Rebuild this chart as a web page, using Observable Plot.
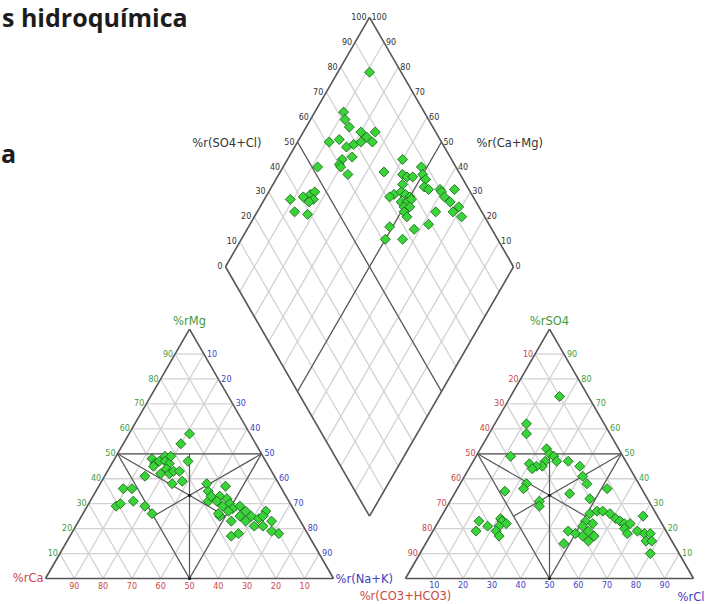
<!DOCTYPE html>
<html><head><meta charset="utf-8">
<script src="https://cdn.jsdelivr.net/npm/d3@7"></script>
<script src="https://cdn.jsdelivr.net/npm/@observablehq/plot@0.6"></script>
<style>
html,body{margin:0;padding:0;background:#fff;}
#wrap{position:relative;width:705px;height:604px;overflow:hidden;}
.t{position:absolute;font-family:"Open Sans",sans-serif;font-weight:700;font-size:25px;color:#1c1c1c;line-height:25px;white-space:nowrap;}
</style></head><body>
<div id="wrap">
<div id="chart"></div>
<div class="t" style="left:2px;top:5px;">s hidroquímica</div>
<div class="t" style="left:1px;top:141px;">a</div>
</div>
<script>
// ---- data ----
const ticks = [10, 20, 30, 40, 50, 60, 70, 80, 90];
const diamondTicks = [0, 10, 20, 30, 40, 50, 60, 70, 80, 90, 100];

// cation triangle samples: [%rMg, %r(Na+K)]
const cationMg = [58,54,48,46,47,49,47,46,44,42,42,43,43,47,38,39,41,45,49,36,36,29,30,31,29,26,38,35,37,33,31,31,32,30,29,28,29,27,27,25,25,23,25,24,27,25,23,21,21,18,19,17,18,26,23,33];
const cationNaK = [21,20,13,15,16,17,18,20,20,19,22,23,25,26,25,28,14,15,19,9,12,10,11,15,20,24,37,39,44,44,41,44,47,49,47,51,53,50,56,48,55,53,59,62,63,63,67,62,65,72,69,56,58,47,58,41];

// anion triangle samples: [%rSO4, %rCl]
const anionSO4 = [73,62,58,49,52,50,49,47,47,47,45,45,46,44,45,41,38,38,36,35,34,36,32,31,29,23,19,21,24,23,21,22,19,17,26,27,27,26,23,22,21,19,17,19,18,14,24,23,22,22,20,18,25,19,18,18,15,15,10,15,17];
const anionCl = [17,11,13,12,23,25,27,29,33,25,25,23,20,22,38,41,44,23,23,17,40,52,48,31,32,14,15,18,21,22,22,24,22,24,51,53,55,58,51,54,51,54,57,47,50,48,61,63,65,67,66,68,70,71,74,76,76,78,80,56,53];

// diamond samples: [%r(SO4+Cl), %r(Ca+Mg)]
const diamondSO4Cl = [89,72,71,71,61,65,74,75,79,76,66,69,72,66,62,60,61,60,52,36,41,44,46,44,42,35,39,83,88,74,80,81,83,87,87,85,86,78,73,76,77,78,74,76,78,74,76,73,73,90,90,90,95,91,93,92,90,84,79,65,73,61,67,71];
const diamondCaMg = [89,90,88,85,89,86,80,77,75,74,82,80,78,78,81,81,76,80,88,91,87,85,84,83,84,87,82,60,52,64,57,55,53,50,48,47,45,55,56,54,52,50,52,50,49,50,48,49,47,41,40,38,36,35,31,28,32,38,38,51,42,50,44,57];

const cationTitles = ["%rMg", "%rCa", "%r(Na+K)"];
const anionTitles = ["%rSO4", "%r(CO3+HCO3)", "%rCl"];
const diamondTitles = ["%r(SO4+Cl)", "%r(Ca+Mg)"];

// ---- geometry (triangle side = 100 units) ----
const H = Math.sqrt(3) / 2;
const cat = ([mg, na]) => ({x: na + mg / 2, y: mg * H});
const ani = ([so4, cl]) => ({x: 125 + cl + so4 / 2, y: so4 * H});
const dia = ([a, c]) => ({x: 112.5 + (a - c) / 2, y: 12.5 * Math.sqrt(3) + H * (a + c)});
const seg = (f, p, q) => { const A = f(p), B = f(q); return {x1: A.x, y1: A.y, x2: B.x, y2: B.y}; };
const yTop = 12.5 * Math.sqrt(3) + 200 * H;

const grid = [];
for (const k of ticks) {
  for (const f of [cat, ani]) {
    grid.push(seg(f, [k, 0], [k, 100 - k]));
    grid.push(seg(f, [0, k], [100 - k, k]));
    grid.push(seg(f, [0, 100 - k], [100 - k, 0]));
  }
  grid.push(seg(dia, [k, 0], [k, 100]));
  grid.push(seg(dia, [0, k], [100, k]));
}

const outline = [];
for (const f of [cat, ani]) {
  outline.push(seg(f, [0, 0], [0, 100]), seg(f, [0, 100], [100, 0]), seg(f, [100, 0], [0, 0]));
}
outline.push(seg(dia, [0, 0], [100, 0]), seg(dia, [100, 0], [100, 100]), seg(dia, [100, 100], [0, 100]), seg(dia, [0, 100], [0, 0]));

const inner = [];
for (const f of [cat, ani]) {
  inner.push(seg(f, [50, 0], [50, 50]), seg(f, [50, 50], [0, 50]), seg(f, [0, 50], [50, 0]));
  inner.push(seg(f, [50, 0], [25, 50]), seg(f, [50, 50], [25, 25]), seg(f, [0, 50], [50, 25]));
}
inner.push(seg(dia, [50, 0], [50, 100]), seg(dia, [0, 50], [100, 50]));

const knots = [cat([100/3, 100/3]), cat([0, 50]), ani([100/3, 100/3]), ani([0, 50])];

const cationPts = cationMg.map((m, i) => cat([m, cationNaK[i]]));
const anionPts = anionSO4.map((s, i) => ani([s, anionCl[i]]));
const diamondPts = diamondSO4Cl.map((a, i) => dia([a, diamondCaMg[i]]));

const GREEN = "#3f9a3f", RED = "#c84848", BLUE = "#4040c0", DARK = "#333";
const lab = (arr, f, val) => arr.map(k => ({...f(k), t: String(val(k))}));

const tickFont = {fontSize: 8, fontFamily: "DejaVu Sans"};
const titleFont = {fontSize: 11.5, fontFamily: "DejaVu Sans"};

const chart = Plot.plot({
  width: 705, height: 604, margin: 0,
  x: {domain: [0, 225], range: [45, 693], axis: null},
  y: {domain: [0, yTop], range: [578, 578 - yTop * 2.88], axis: null},
  style: {background: "white"},
  marks: [
    Plot.link(grid, {x1: "x1", y1: "y1", x2: "x2", y2: "y2", stroke: "#d2d2d2", strokeWidth: 1.3}),
    Plot.link(inner, {x1: "x1", y1: "y1", x2: "x2", y2: "y2", stroke: "#555", strokeWidth: 1.2}),
    Plot.link(outline, {x1: "x1", y1: "y1", x2: "x2", y2: "y2", stroke: "#555", strokeWidth: 1.6}),
    Plot.dot(knots, {x: "x", y: "y", r: 1.6, fill: "#111"}),
    // cation tick labels
    Plot.text(lab(ticks, k => cat([k, 0]), k => k), {x: "x", y: "y", text: "t", textAnchor: "end", dx: -2, fill: GREEN, ...tickFont}),
    Plot.text(lab(ticks, k => cat([100 - k, k]), k => k), {x: "x", y: "y", text: "t", textAnchor: "start", dx: 3, fill: BLUE, ...tickFont}),
    Plot.text(lab(ticks, k => cat([0, 100 - k]), k => k), {x: "x", y: "y", text: "t", dy: 8, fill: RED, ...tickFont}),
    // anion tick labels
    Plot.text(lab(ticks, k => ani([100 - k, 0]), k => k), {x: "x", y: "y", text: "t", textAnchor: "end", dx: -2, fill: RED, ...tickFont}),
    Plot.text(lab(ticks, k => ani([k, 100 - k]), k => k), {x: "x", y: "y", text: "t", textAnchor: "start", dx: 3, fill: GREEN, ...tickFont}),
    Plot.text(lab(ticks, k => ani([0, k]), k => k), {x: "x", y: "y", text: "t", dy: 7, fill: BLUE, ...tickFont}),
    // diamond tick labels
    Plot.text(lab(diamondTicks, k => dia([k, 100]), k => k), {x: "x", y: "y", text: "t", textAnchor: "end", dx: -3, fill: DARK, ...tickFont}),
    Plot.text(lab(diamondTicks, k => dia([100, k]), k => k), {x: "x", y: "y", text: "t", textAnchor: "start", dx: 2, fill: DARK, ...tickFont}),
    // axis titles
    Plot.text([cat([100, 0])], {x: "x", y: "y", text: [cationTitles[0]], dy: -8, fill: GREEN, ...titleFont}),
    Plot.text([cat([0, 0])], {x: "x", y: "y", text: [cationTitles[1]], textAnchor: "end", dx: -2, fill: RED, ...titleFont}),
    Plot.text([cat([0, 100])], {x: "x", y: "y", text: [cationTitles[2]], textAnchor: "start", dx: 2, dy: 1, fill: BLUE, ...titleFont}),
    Plot.text([ani([100, 0])], {x: "x", y: "y", text: [anionTitles[0]], dy: -8, fill: GREEN, ...titleFont}),
    Plot.text([ani([0, 0])], {x: "x", y: "y", text: [anionTitles[1]], dy: 18, fill: RED, ...titleFont}),
    Plot.text([ani([0, 100])], {x: "x", y: "y", text: [anionTitles[2]], textAnchor: "end", dx: 11, dy: 19, fill: BLUE, ...titleFont}),
    Plot.text([dia([50, 100])], {x: "x", y: "y", text: [diamondTitles[0]], textAnchor: "end", dx: -36, dy: 1, fill: DARK, ...titleFont}),
    Plot.text([dia([100, 50])], {x: "x", y: "y", text: [diamondTitles[1]], textAnchor: "start", dx: 35, dy: 1, fill: DARK, ...titleFont}),
    // samples
    Plot.dot(cationPts, {x: "x", y: "y", symbol: d3.symbolDiamond2, r: 4.5, fill: "#38d438", stroke: "#1e6a1e", strokeWidth: 0.9}),
    Plot.dot(anionPts, {x: "x", y: "y", symbol: d3.symbolDiamond2, r: 4.5, fill: "#38d438", stroke: "#1e6a1e", strokeWidth: 0.9}),
    Plot.dot(diamondPts, {x: "x", y: "y", symbol: d3.symbolDiamond2, r: 4.5, fill: "#38d438", stroke: "#1e6a1e", strokeWidth: 0.9})
  ]
});
document.getElementById("chart").appendChild(chart);
</script>
</body></html>
